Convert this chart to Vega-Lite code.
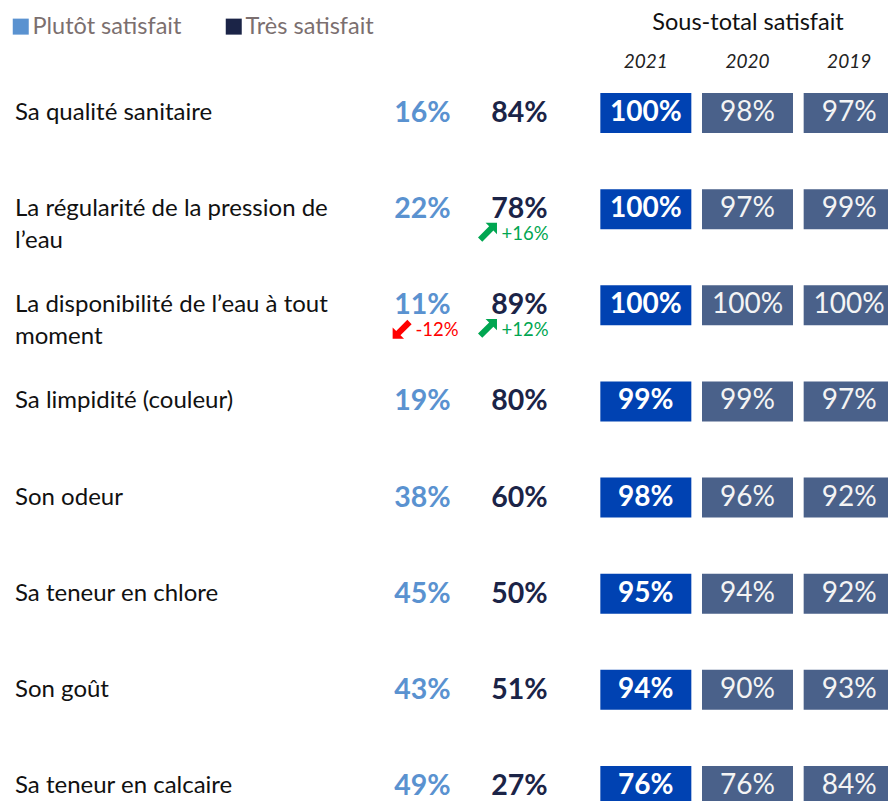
{
  "$schema": "https://vega.github.io/schema/vega-lite/v6.json",
  "padding": {"left": 9, "top": 10, "right": 0, "bottom": 0},
  "background": "white",
  "bounds": "flush",
  "spacing": 27,
  "config": {"view": {"stroke": null}, "font": "Lato", "locale": {"number": {"decimal": ".", "thousands": ",", "grouping": [3], "currency": ["$", ""], "minus": "-"}}},
  "resolve": {"scale": {"color": "shared"}, "legend": {"color": "shared"}},
  "datasets": {
    "items": [
      {"item": "Sa qualité sanitaire"},
      {"item": "La régularité de la pression de\nl’eau"},
      {"item": "La disponibilité de l’eau à tout\nmoment"},
      {"item": "Sa limpidité (couleur)"},
      {"item": "Son odeur"},
      {"item": "Sa teneur en chlore"},
      {"item": "Son goût"},
      {"item": "Sa teneur en calcaire"}
    ],
    "niveaux": [
      {"item": "Sa qualité sanitaire", "niveau": "Plutôt satisfait", "pct": 0.16},
      {"item": "Sa qualité sanitaire", "niveau": "Très satisfait", "pct": 0.84},
      {"item": "La régularité de la pression de\nl’eau", "niveau": "Plutôt satisfait", "pct": 0.22},
      {"item": "La régularité de la pression de\nl’eau", "niveau": "Très satisfait", "pct": 0.78},
      {"item": "La disponibilité de l’eau à tout\nmoment", "niveau": "Plutôt satisfait", "pct": 0.11},
      {"item": "La disponibilité de l’eau à tout\nmoment", "niveau": "Très satisfait", "pct": 0.89},
      {"item": "Sa limpidité (couleur)", "niveau": "Plutôt satisfait", "pct": 0.19},
      {"item": "Sa limpidité (couleur)", "niveau": "Très satisfait", "pct": 0.80},
      {"item": "Son odeur", "niveau": "Plutôt satisfait", "pct": 0.38},
      {"item": "Son odeur", "niveau": "Très satisfait", "pct": 0.60},
      {"item": "Sa teneur en chlore", "niveau": "Plutôt satisfait", "pct": 0.45},
      {"item": "Sa teneur en chlore", "niveau": "Très satisfait", "pct": 0.50},
      {"item": "Son goût", "niveau": "Plutôt satisfait", "pct": 0.43},
      {"item": "Son goût", "niveau": "Très satisfait", "pct": 0.51},
      {"item": "Sa teneur en calcaire", "niveau": "Plutôt satisfait", "pct": 0.49},
      {"item": "Sa teneur en calcaire", "niveau": "Très satisfait", "pct": 0.27}
    ],
    "deltas": [
      {"item": "La régularité de la pression de\nl’eau", "niveau": "Très satisfait", "delta": 0.16},
      {"item": "La disponibilité de l’eau à tout\nmoment", "niveau": "Plutôt satisfait", "delta": -0.12},
      {"item": "La disponibilité de l’eau à tout\nmoment", "niveau": "Très satisfait", "delta": 0.12}
    ],
    "totals": [
      {"item": "Sa qualité sanitaire", "annee": "2021", "total": 1.00},
      {"item": "Sa qualité sanitaire", "annee": "2020", "total": 0.98},
      {"item": "Sa qualité sanitaire", "annee": "2019", "total": 0.97},
      {"item": "La régularité de la pression de\nl’eau", "annee": "2021", "total": 1.00},
      {"item": "La régularité de la pression de\nl’eau", "annee": "2020", "total": 0.97},
      {"item": "La régularité de la pression de\nl’eau", "annee": "2019", "total": 0.99},
      {"item": "La disponibilité de l’eau à tout\nmoment", "annee": "2021", "total": 1.00},
      {"item": "La disponibilité de l’eau à tout\nmoment", "annee": "2020", "total": 1.00},
      {"item": "La disponibilité de l’eau à tout\nmoment", "annee": "2019", "total": 1.00},
      {"item": "Sa limpidité (couleur)", "annee": "2021", "total": 0.99},
      {"item": "Sa limpidité (couleur)", "annee": "2020", "total": 0.99},
      {"item": "Sa limpidité (couleur)", "annee": "2019", "total": 0.97},
      {"item": "Son odeur", "annee": "2021", "total": 0.98},
      {"item": "Son odeur", "annee": "2020", "total": 0.96},
      {"item": "Son odeur", "annee": "2019", "total": 0.92},
      {"item": "Sa teneur en chlore", "annee": "2021", "total": 0.95},
      {"item": "Sa teneur en chlore", "annee": "2020", "total": 0.94},
      {"item": "Sa teneur en chlore", "annee": "2019", "total": 0.92},
      {"item": "Son goût", "annee": "2021", "total": 0.94},
      {"item": "Son goût", "annee": "2020", "total": 0.90},
      {"item": "Son goût", "annee": "2019", "total": 0.93},
      {"item": "Sa teneur en calcaire", "annee": "2021", "total": 0.76},
      {"item": "Sa teneur en calcaire", "annee": "2020", "total": 0.76},
      {"item": "Sa teneur en calcaire", "annee": "2019", "total": 0.84}
    ]
  },
  "hconcat": [
    {
      "width": 332,
      "height": 769,
      "data": {"name": "items"},
      "mark": {"type": "text", "align": "left", "baseline": "line-top", "lineHeight": 32, "dy": -16, "fontSize": 24, "color": "#111111", "lineBreak": "\n"},
      "encoding": {
        "x": {"datum": "libellé", "type": "nominal", "bandPosition": 0, "scale": {"type": "band", "paddingInner": 0, "paddingOuter": 0}, "axis": null},
        "y": {"field": "item", "type": "nominal", "scale": {"type": "band", "domain": ["Sa qualité sanitaire", "La régularité de la pression de\nl’eau", "La disponibilité de l’eau à tout\nmoment", "Sa limpidité (couleur)", "Son odeur", "Sa teneur en chlore", "Son goût", "Sa teneur en calcaire"], "paddingInner": 0, "paddingOuter": 0}, "axis": null},
        "text": {"field": "item"}
      }
    },
    {
      "width": 194,
      "height": 769,
      "layer": [
        {
          "data": {"name": "niveaux"},
          "mark": {"type": "text", "fontSize": 28.5, "fontWeight": "bold", "baseline": "middle", "align": "center"},
          "encoding": {
            "x": {"field": "niveau", "type": "nominal", "bandPosition": 0.5, "scale": {"type": "band", "domain": ["Plutôt satisfait", "Très satisfait"], "paddingInner": 0, "paddingOuter": 0}, "axis": null},
            "y": {"field": "item", "type": "nominal", "bandPosition": 0.5, "scale": {"type": "band", "domain": ["Sa qualité sanitaire", "La régularité de la pression de\nl’eau", "La disponibilité de l’eau à tout\nmoment", "Sa limpidité (couleur)", "Son odeur", "Sa teneur en chlore", "Son goût", "Sa teneur en calcaire"], "paddingInner": 0, "paddingOuter": 0}, "axis": null},
            "text": {"field": "pct", "format": ".0%"},
            "color": {"field": "niveau", "type": "nominal", "scale": {"domain": ["Plutôt satisfait", "Très satisfait"], "range": ["#5a92d0", "#1b2447"]},
              "legend": {"orient": "none", "legendX": -6, "legendY": -50.5, "padding": 0, "direction": "horizontal", "title": null, "symbolType": "square", "symbolSize": 256, "symbolStrokeWidth": 0, "symbolOpacity": 1, "labelFontSize": 23.5, "labelColor": "#7b6f6f", "labelFont": "Lato", "columnPadding": 40, "labelOffset": 0}}
          }
        },
        {
          "data": {"name": "deltas"},
          "transform": [{"filter": "datum.delta > 0"}],
          "mark": {"type": "text", "fontSize": 18.5, "align": "left", "baseline": "middle", "dx": -18, "dy": 25, "color": "#00a651"},
          "encoding": {
            "x": {"field": "niveau", "type": "nominal", "bandPosition": 0.5},
            "y": {"field": "item", "type": "nominal", "bandPosition": 0.5},
            "text": {"field": "delta", "format": "+.0%"}
          }
        },
        {
          "data": {"name": "deltas"},
          "transform": [{"filter": "datum.delta < 0"}],
          "mark": {"type": "text", "fontSize": 18.5, "align": "left", "baseline": "middle", "dx": -7, "dy": 25, "color": "#ff0000"},
          "encoding": {
            "x": {"field": "niveau", "type": "nominal", "bandPosition": 0.5},
            "y": {"field": "item", "type": "nominal", "bandPosition": 0.5},
            "text": {"field": "delta", "format": "+.0%"}
          }
        },
        {
          "data": {"name": "deltas"},
          "transform": [{"filter": "datum.delta > 0"}],
          "mark": {"type": "point", "filled": true, "opacity": 1, "size": 360, "color": "#00a651", "shape": "M1,-1L1,0.2L0.625,-0.175L-0.55,1L-1,0.55L0.175,-0.625L-0.2,-1Z"},
          "encoding": {
            "x": {"field": "niveau", "type": "nominal", "bandPosition": 0.17},
            "y": {"field": "item", "type": "nominal", "bandPosition": 0.74}
          }
        },
        {
          "data": {"name": "deltas"},
          "transform": [{"filter": "datum.delta < 0"}],
          "mark": {"type": "point", "filled": true, "opacity": 1, "size": 360, "color": "#ff0000", "shape": "M-1,1L-1,-0.2L-0.625,0.175L0.55,-1L1,-0.55L-0.175,0.625L0.2,1Z"},
          "encoding": {
            "x": {"field": "niveau", "type": "nominal", "bandPosition": 0.29},
            "y": {"field": "item", "type": "nominal", "bandPosition": 0.75}
          }
        }
      ]
    },
    {
      "width": 305,
      "height": 769,
      "data": {"name": "totals"},
      "layer": [
        {
          "mark": {"type": "bar", "width": {"band": 0.895}, "height": {"band": 0.415}},
          "encoding": {
            "x": {"field": "annee", "type": "nominal", "scale": {"type": "band", "domain": ["2021", "2020", "2019"], "paddingInner": 0, "paddingOuter": 0},
              "axis": {"orient": "top", "title": "Sous-total satisfait", "titleFontSize": 23.5, "titleFontWeight": "normal", "titleColor": "#111111", "titleFont": "Lato", "titlePadding": 18, "labelFontSize": 19, "labelFontStyle": "italic", "labelColor": "#222222", "labelAngle": 0, "labelPadding": -6, "domain": false, "ticks": false, "grid": false}},
            "y": {"field": "item", "type": "nominal", "scale": {"type": "band", "domain": ["Sa qualité sanitaire", "La régularité de la pression de\nl’eau", "La disponibilité de l’eau à tout\nmoment", "Sa limpidité (couleur)", "Son odeur", "Sa teneur en chlore", "Son goût", "Sa teneur en calcaire"], "paddingInner": 0, "paddingOuter": 0}, "axis": null},
            "color": {"condition": {"test": "datum.annee === '2021'", "value": "#0042b2"}, "value": "#4a618a"}
          }
        },
        {
          "transform": [{"filter": "datum.annee === '2021'"}],
          "mark": {"type": "text", "fontSize": 28, "fontWeight": "bold", "color": "white", "baseline": "middle", "align": "center"},
          "encoding": {
            "x": {"field": "annee", "type": "nominal", "bandPosition": 0.5},
            "y": {"field": "item", "type": "nominal", "bandPosition": 0.5},
            "text": {"field": "total", "format": ".0%"}
          }
        },
        {
          "transform": [{"filter": "datum.annee !== '2021'"}],
          "mark": {"type": "text", "fontSize": 28, "color": "#f4f4f4", "baseline": "middle", "align": "center"},
          "encoding": {
            "x": {"field": "annee", "type": "nominal", "bandPosition": 0.5},
            "y": {"field": "item", "type": "nominal", "bandPosition": 0.5},
            "text": {"field": "total", "format": ".0%"}
          }
        }
      ]
    }
  ]
}
